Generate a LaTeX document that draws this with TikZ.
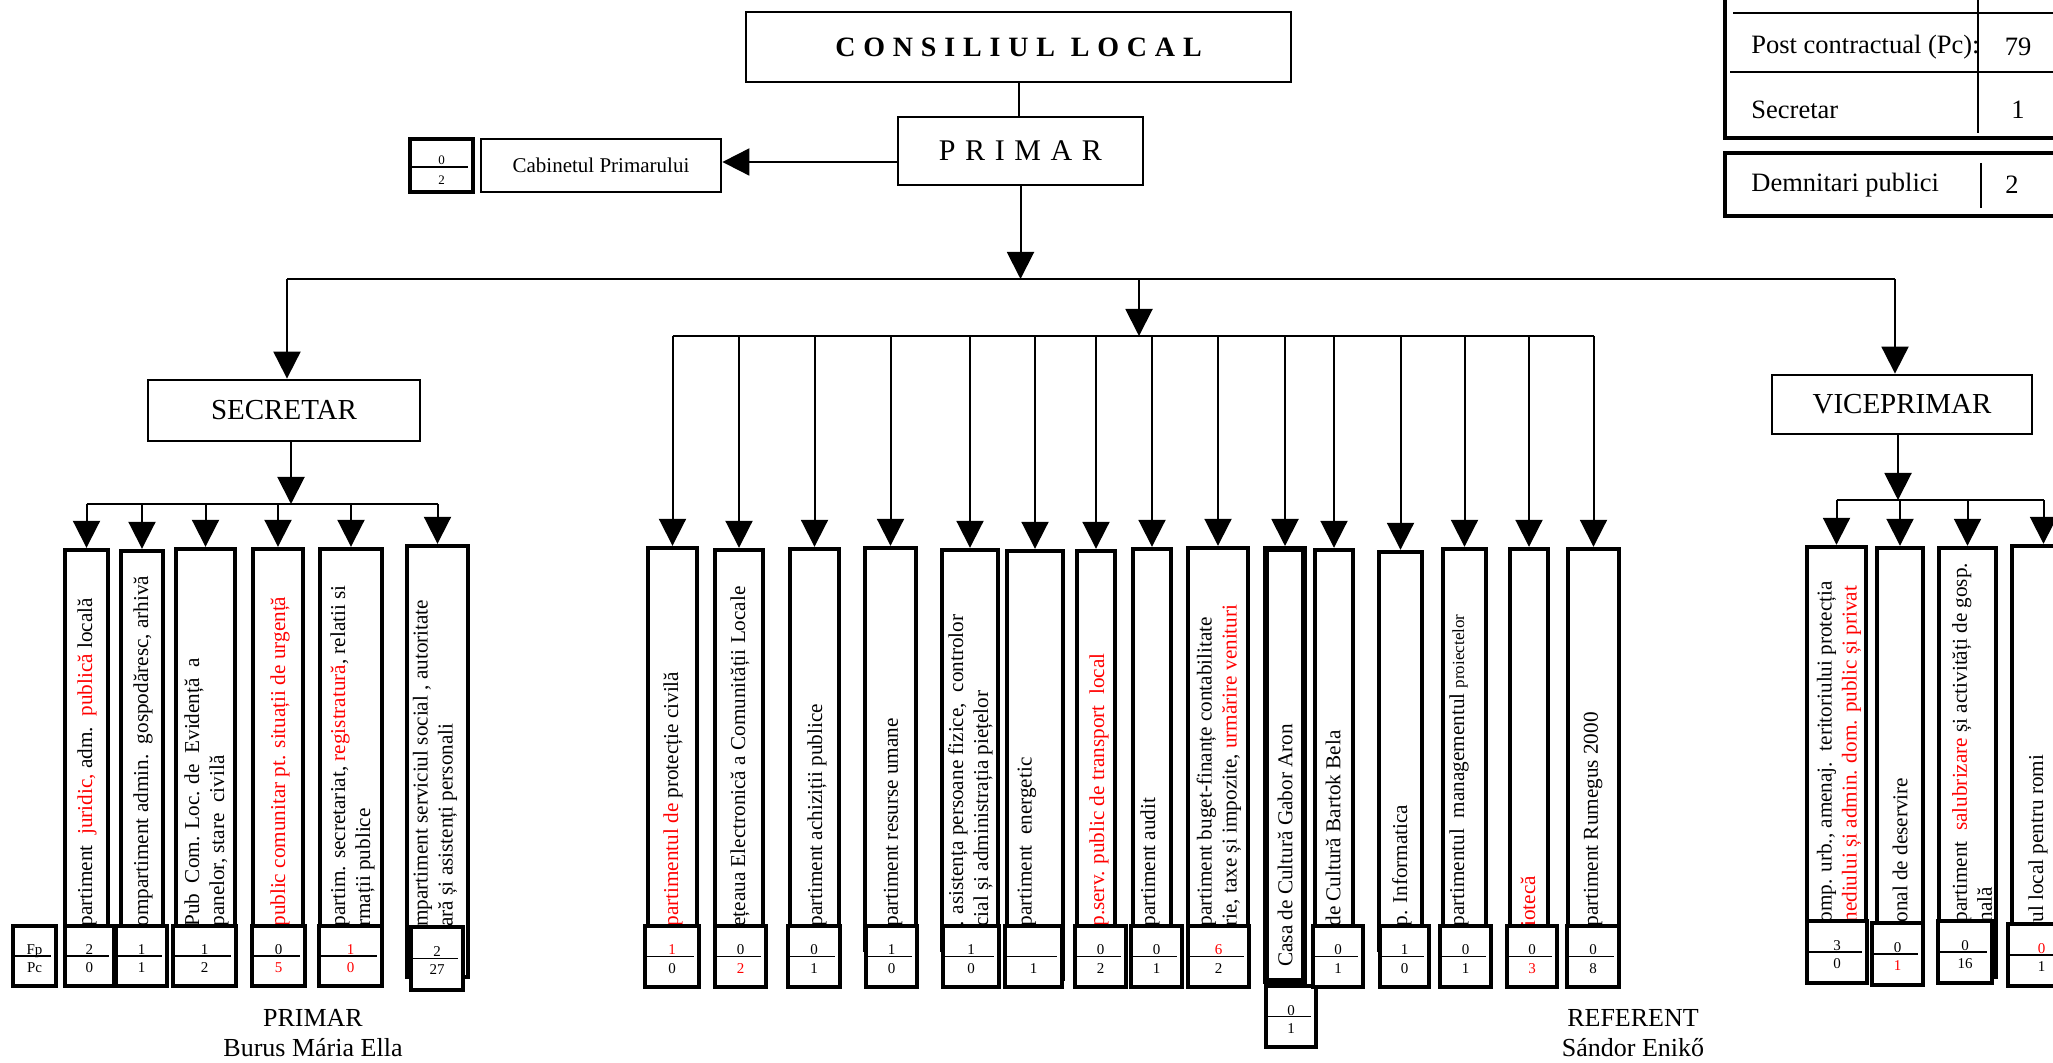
\documentclass[tikz,border=0pt]{standalone}
\usepackage{fontspec}
\setmainfont{Liberation Serif}
\usetikzlibrary{arrows.meta,fit}

\begin{document}
\begin{tikzpicture}[x=0.5pt,y=-0.5pt,
  mainbox/.style={draw, line width=1.4pt, inner sep=0pt},
  maintext/.style={inner sep=0pt, font=\fontsize{14.5}{17}\selectfont},
  deptbox/.style={draw, line width=2.2pt, inner sep=0pt},
  nrbox/.style={draw, fill=white, line width=1.6pt, inner sep=0pt},
  depttext/.style={rotate=90, anchor=west, inner sep=0pt, align=left, font=\fontsize{10.6}{12.5}\selectfont},
  nrtext/.style={inner sep=0pt, anchor=base, font=\fontsize{7.5}{9}\selectfont},
  tabtext/.style={inner sep=0pt, font=\fontsize{13.25}{15}\selectfont},
  arr/.style={-{Triangle[width=13.5pt,length=13.5pt]}, line width=1pt},
  bus/.style={line width=0.8pt}]

  \useasboundingbox (0,0) rectangle (2053,1063);

  % Conducere
  \node[mainbox, fit={(746,12) (1291,82)}] (consiliu) {};
  \node[maintext, font=\fontsize{14}{17}\selectfont\bfseries\addfontfeature{LetterSpace=3}] (consiliu-t) at (consiliu.center) {C O N S I L I U L\ \ L O C A L};
  \node[mainbox, fit={(898,117) (1143,185)}] (primar) {};
  \node[maintext, font=\fontsize{15}{17}\selectfont\addfontfeature{LetterSpace=7}] (primar-t) at (primar.center) {P R I M A R};
  \node[mainbox, fit={(481,139) (721,192)}] (cabinet) {};
  \node[maintext, font=\fontsize{10.5}{12}\selectfont] (cabinet-t) at (cabinet.center) {Cabinetul Primarului};
  \node[nrbox, fit={(410,139) (473,192)}] (cabnr) {};
  \draw[line width=0.8pt] ([xshift=1.5pt,yshift=-0.75pt]cabnr.west) -- ([xshift=-3.5pt,yshift=-0.75pt]cabnr.east);
  \node[nrtext, font=\fontsize{6.5}{8}\selectfont] (cabnr-a) at ([yshift=0.5pt]cabnr.center) {0};
  \node[nrtext, font=\fontsize{6.5}{8}\selectfont] (cabnr-b) at ([yshift=-9.75pt]cabnr.center) {2};
  \node[mainbox, fit={(148,380) (420,441)}] (secretar) {};
  \node[maintext] (secretar-t) at (secretar.center) {SECRETAR};
  \node[mainbox, fit={(1772,375) (2032,434)}] (viceprimar) {};
  \node[maintext] (viceprimar-t) at (viceprimar.center) {VICEPRIMAR};

  % Puncte de ramificare
  \coordinate (busL) at (287,279);
  \coordinate (busR) at (1895,279);
  \coordinate (mtop) at (1139,279);
  \coordinate (mbus) at (1139,336);
  \coordinate (sbus) at (291,504);
  \coordinate (vbus) at (1898,500);

  % Legaturi principale
  \draw[line width=1pt] (consiliu.south) -- (consiliu.south |- primar.north);
  \draw[arr] ([yshift=-5.5pt]primar.west) -- ([yshift=-5.5pt]primar.west -| cabinet.east);
  \draw[arr] (primar.south) -- (primar.south |- busL);
  \draw[bus] (busL) -- (busR);
  \draw[arr] (busL) -- (busL |- secretar.north);
  \draw[arr] (busR) -- (busR |- viceprimar.north);
  \draw[arr] (mtop) -- (mbus);
  \draw[arr] (secretar.south -| sbus) -- (sbus);
  \draw[arr] (viceprimar.south -| vbus) -- (vbus);

  % Compartimente
  \foreach \n/\xl/\xr/\yt/\yb in {s1/65/108/550/950, s2/121/163/551/950, s3/176/235/549/950,
      s4/253/303/549/950, s5/320/382/549/950, s6/407/468/546/977,
      m1/648/697/548/950, m2/715/763/550/950, m3/790/839/549/950, m4/865/916/548/950,
      m5/942/998/550/950, m6/1007/1063/551/979, m7/1077/1115/551/950, m8/1133/1171/549/950,
      m9/1188/1248/548/950, m11/1315/1353/550/950, m12/1379/1422/552/950,
      m13/1443/1486/549/950, m14/1510/1548/549/950, m15/1568/1619/549/950,
      r1/1807/1866/547/950, r2/1877/1923/548/950, r3/1939/1996/548/977, r4/2012/2075/546/950}
    \node[deptbox, fit={(\xl,\yt) (\xr,\yb)}] (\n) {};
  \node[deptbox, line width=3pt, fit={(1266,549) (1304,981)}] (m10) {};

  % Sageti catre compartimente
  \draw[bus] (s1.north |- sbus) -- (s6.north |- sbus);
  \draw[bus] (m1.north |- mbus) -- (m15.north |- mbus);
  \draw[bus] (r1.north |- vbus) -- (r4.north |- vbus);
  \foreach \n in {s1,s2,s3,s4,s5,s6}
    \draw[arr] (\n.north |- sbus) -- (\n.north);
  \foreach \n in {m1,m2,m3,m4,m5,m6,m7,m8,m9,m10,m11,m12,m13,m14,m15}
    \draw[arr] (\n.north |- mbus) -- (\n.north);
  \foreach \n in {r1,r2,r3,r4}
    \draw[arr] (\n.north |- vbus) -- (\n.north);

  % Denumiri compartimente
  \node[depttext] (ts1) at (87,927) {partiment\ \ \textcolor{red}{juridic,} adm.\ \ \textcolor{red}{publică} locală};
  \node[depttext] (ts2) at (143,927) {ompartiment admin.\ \ gospodăresc, arhivă};
  \node[depttext] (ts3) at (206.5,927) {Pub\ \ Com. Loc. de\ \ Evidență\ \ a\\panelor, stare\ \ civilă};
  \node[depttext] (ts4) at (280,927) {\textcolor{red}{public comunitar pt. situații de urgență}};
  \node[depttext] (ts5) at (352.5,927) {partim. secretariat, \textcolor{red}{registratură}, relatii si\\rmații publice};
  \node[depttext] (ts6) at (435,927) {mpartiment serviciul social , autoritate\\ară și asistenți personali};
  \node[depttext] (tm1) at (673,927) {\textcolor{red}{partimentul de} protecție civilă};
  \node[depttext] (tm2) at (740,927) {ețeaua Electronică a Comunității Locale};
  \node[depttext] (tm3) at (817,927) {partiment achiziții publice};
  \node[depttext] (tm4) at (893,927) {partiment resurse umane};
  \node[depttext] (tm5) at (970.5,927) {. asistența persoane fizice,\ \ controlor\\cial și administrația piețelor};
  \node[depttext] (tm6) at (1027,927) {partiment\ \ energetic};
  \node[depttext] (tm7) at (1099,927) {\textcolor{red}{p.serv. public de transport\ \ local}};
  \node[depttext] (tm8) at (1150,927) {partiment audit};
  \node[depttext] (tm9) at (1219,927) {partiment buget-finanțe contabilitate\\rie, taxe și impozite, \textcolor{red}{urmărire venituri}};
  \node[depttext] (tm10) at (1285,967) {Casa de Cultură Gabor Aron};
  \node[depttext] (tm11) at (1333,927) {de Cultură Bartok Bela};
  \node[depttext] (tm12) at (1402,927) {p. Informatica};
  \node[depttext] (tm13) at (1459,927) {partimentul\ \ managementul {\fontsize{8.5}{10}\selectfont proiectelor}};
  \node[depttext] (tm14) at (1528,927) {\textcolor{red}{iotecă}};
  \node[depttext] (tm15) at (1593,927) {partiment Rumegus 2000};
  \node[depttext] (tr1) at (1839,923) {omp. urb., amenaj.\ \ teritoriului protecția\\\textcolor{red}{nediului și admin. dom. public și privat}};
  \node[depttext] (tr2) at (1900,923) {onal de deservire};
  \node[depttext] (tr3) at (1972,923) {partiment\ \ \textcolor{red}{salubrizare} și activități de gosp.\\nală};
  \node[depttext] (tr4) at (2038,923) {ul local pentru romi};

  % Numar posturi (Fp / Pc)
  \foreach \n/\xl/\xr/\yt/\yb/\a/\b in {fp/13/56/926/986/Fp/Pc,
      s1/65/114/926/986/2/0, s2/116/167/926/986/1/1, s3/173/236/926/986/1/2,
      s4/252/305/926/986/0/{\textcolor{red}{5}}, s5/319/382/926/986/{\textcolor{red}{1}}/{\textcolor{red}{0}},
      s6/411/463/927/990/2/27,
      m1/645/699/926/987/{\textcolor{red}{1}}/0, m2/715/766/926/987/0/{\textcolor{red}{2}},
      m3/788/840/926/987/0/1, m4/866/917/926/987/1/0, m5/943/999/926/987/1/0,
      m6/1005/1062/926/987/{}/1, m7/1075/1126/926/987/0/2, m8/1131/1182/926/987/0/1,
      m9/1188/1249/926/987/{\textcolor{red}{6}}/2, m10/1266/1316/986/1047/0/1,
      m11/1313/1363/926/987/0/1, m12/1380/1429/926/987/1/0, m13/1440/1491/926/987/0/1,
      m14/1507/1557/926/987/0/{\textcolor{red}{3}}, m15/1567/1619/926/987/0/8,
      r1/1807/1867/921/983/3/0, r2/1872/1923/923/985/0/{\textcolor{red}{1}},
      r3/1938/1992/921/983/0/16, r4/2008/2075/924/986/{\textcolor{red}{0}}/1}{
    \node[nrbox, fit={(\xl,\yt) (\xr,\yb)}] (nr\n) {};
    \draw[line width=0.8pt] ([xshift=1.5pt]nr\n.west) -- ([xshift=-3.5pt]nr\n.east);
    \node[nrtext] (nr\n-a) at ([yshift=0.75pt]nr\n.center) {\a};
    \node[nrtext] (nr\n-b) at ([yshift=-8.25pt]nr\n.center) {\b};
  }

  % Tabel posturi
  \draw[line width=1.8pt] (1725,-20) rectangle (2090,138);
  \draw[line width=1pt] (1733,13) -- (2090,13);
  \draw[line width=1pt] (1730,72) -- (2090,72);
  \draw[line width=1pt] (1978,-20) -- (1978,133);
  \draw[line width=1.8pt] (1725,153) rectangle (2090,216);
  \draw[line width=1pt] (1981,163) -- (1981,208);
  \node[tabtext, anchor=west] (pc) at (1751,47) {Post contractual (Pc):};
  \node[tabtext] (pcnr) at (2018,47) {79};
  \node[tabtext, anchor=west] (secr) at (1751,110) {Secretar};
  \node[tabtext] (secrnr) at (2018,110) {1};
  \node[tabtext, anchor=west] (demn) at (1751,185) {Demnitari publici};
  \node[tabtext] (demnnr) at (2012,185) {2};

  % Semnaturi
  \node[align=center, inner sep=0pt, font=\fontsize{13}{15}\selectfont] (semnprimar) at (313,1033) {PRIMAR\\Burus Mária Ella};
  \node[align=center, inner sep=0pt, font=\fontsize{13}{15}\selectfont] (semnref) at (1633,1033) {REFERENT\\Sándor Enikő};

\end{tikzpicture}
\end{document}
